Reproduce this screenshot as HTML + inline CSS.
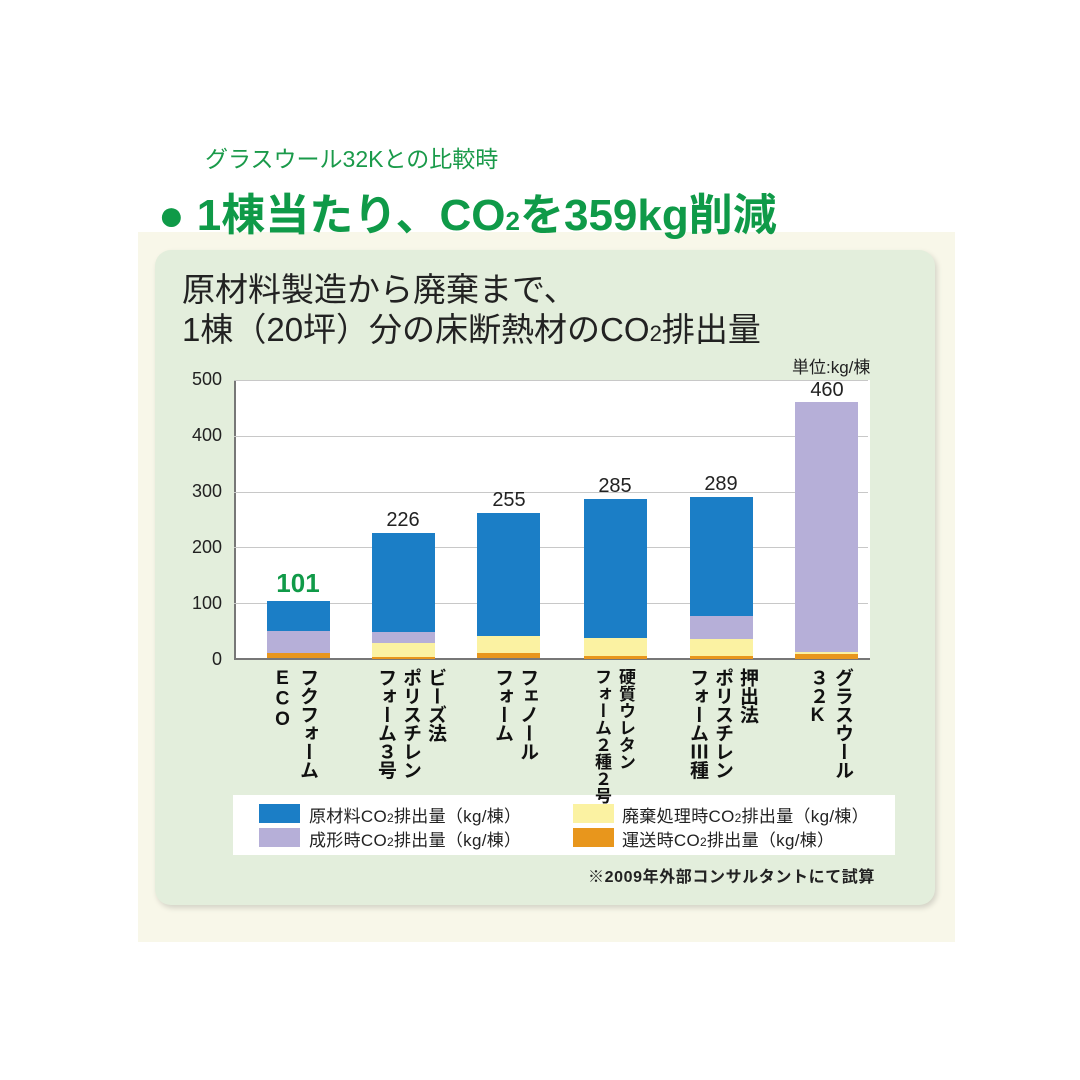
<!DOCTYPE html>
<html><head><meta charset="utf-8">
<style>
*{margin:0;padding:0}
body{width:1080px;height:1080px;background:#fff;position:relative;overflow:hidden;font-family:"Liberation Sans","Noto Sans CJK JP",sans-serif}
.a{position:absolute}
.bar{position:absolute;width:63px}
.b{background:#1b7ec6}.p{background:#b6afd8}.y{background:#fbf2a2}.o{background:#e8961c}
.v{position:absolute;font-size:20px;color:#222;text-align:center;width:80px}
.t{position:absolute;z-index:2;writing-mode:vertical-rl;text-orientation:upright;font-size:19px;font-weight:bold;color:#111;top:668px;line-height:25px;letter-spacing:-0.5px}
.grid{position:absolute;left:234px;width:634px;height:1px;background:#c8c8c8}
.yl{position:absolute;left:166px;width:56px;text-align:right;font-size:18px;color:#222}
.sw{position:absolute;width:41px;height:19px}
.lt{position:absolute;font-size:17px;color:#222;letter-spacing:0.3px}
</style></head><body>
<div class="a" style="left:138px;top:232px;width:817px;height:710px;background:#f8f7e9"></div>
<div class="a" style="left:155px;top:250px;width:780px;height:655px;background:#e3eedc;border-radius:16px;box-shadow:2px 3px 6px rgba(0,0,0,0.15)"></div>
<div class="a" style="left:205px;top:140px;font-size:23px;color:#1a9a4a">グラスウール32Kとの比較時</div>
<div class="a" style="left:158px;top:179px;font-size:44px;font-weight:bold;color:#0f9a48;letter-spacing:0px">●&nbsp;1棟当たり、CO<span style="font-size:26px">2</span>を359kg削減</div>
<div class="a" style="left:182px;top:270px;font-size:33px;color:#222;line-height:40px">原材料製造から廃棄まで、<br>1棟（20坪）分の床断熱材のCO<span style="font-size:22px">2</span>排出量</div>
<div class="a" style="left:792px;top:353px;font-size:17px;color:#222">単位:kg/棟</div>
<div class="a" style="left:234px;top:380px;width:634px;height:279px;background:#fff;border-left:2px solid #777"></div>
<div class="grid" style="top:380px"></div><div class="grid" style="top:436px"></div><div class="grid" style="top:492px"></div><div class="grid" style="top:547px"></div><div class="grid" style="top:603px"></div>
<div class="a" style="left:234px;top:658px;width:636px;height:2px;background:#777"></div>
<div class="yl" style="top:369px">500</div><div class="yl" style="top:425px">400</div><div class="yl" style="top:481px">300</div><div class="yl" style="top:537px">200</div><div class="yl" style="top:593px">100</div><div class="yl" style="top:649px">0</div>

<div class="bar b" style="left:267px;top:601px;height:30px"></div><div class="bar p" style="left:267px;top:631px;height:22px"></div><div class="bar o" style="left:267px;top:653px;height:5px"></div>
<div class="bar b" style="left:372px;top:533px;height:99px"></div><div class="bar p" style="left:372px;top:632px;height:11px"></div><div class="bar y" style="left:372px;top:643px;height:14px"></div><div class="bar o" style="left:372px;top:657px;height:2px"></div>
<div class="bar b" style="left:477px;top:513px;height:123px"></div><div class="bar y" style="left:477px;top:636px;height:17px"></div><div class="bar o" style="left:477px;top:653px;height:5px"></div>
<div class="bar b" style="left:584px;top:499px;height:139px"></div><div class="bar y" style="left:584px;top:638px;height:18px"></div><div class="bar o" style="left:584px;top:656px;height:3px"></div>
<div class="bar b" style="left:690px;top:497px;height:119px"></div><div class="bar p" style="left:690px;top:616px;height:23px"></div><div class="bar y" style="left:690px;top:639px;height:17px"></div><div class="bar o" style="left:690px;top:656px;height:3px"></div>
<div class="bar p" style="left:795px;top:402px;height:250px"></div><div class="bar y" style="left:795px;top:652px;height:2px"></div><div class="bar o" style="left:795px;top:654px;height:5px"></div>

<div class="v" style="left:258px;top:568px;font-size:26px;font-weight:bold;color:#109a48">101</div>
<div class="v" style="left:363px;top:509px">226</div>
<div class="v" style="left:469px;top:489px">255</div>
<div class="v" style="left:575px;top:475px">285</div>
<div class="v" style="left:681px;top:473px">289</div>
<div class="v" style="left:787px;top:379px">460</div>

<div class="t" style="left:270px">フクフォーム<br>ECO</div>
<div class="t" style="left:373px">ビーズ法<br>ポリスチレン<br>フォーム３号</div>
<div class="t" style="left:490px">フェノール<br>フォーム</div>
<div class="t" style="left:589px;font-size:17px;letter-spacing:0px;line-height:24px">硬質ウレタン<br>フォーム２種２号</div>
<div class="t" style="left:685px">押出法<br>ポリスチレン<br>フォームⅢ種</div>
<div class="t" style="left:805px">グラスウール<br>３２K</div>

<div class="a" style="left:233px;top:795px;width:662px;height:60px;background:#fff"></div>
<div class="sw b" style="left:259px;top:804px"></div><div class="lt" style="left:309px;top:802px">原材料CO<span style="font-size:12px">2</span>排出量（kg/棟）</div>
<div class="sw p" style="left:259px;top:828px"></div><div class="lt" style="left:309px;top:826px">成形時CO<span style="font-size:12px">2</span>排出量（kg/棟）</div>
<div class="sw y" style="left:573px;top:804px"></div><div class="lt" style="left:622px;top:802px">廃棄処理時CO<span style="font-size:12px">2</span>排出量（kg/棟）</div>
<div class="sw o" style="left:573px;top:828px"></div><div class="lt" style="left:622px;top:826px">運送時CO<span style="font-size:12px">2</span>排出量（kg/棟）</div>
<div class="a" style="left:588px;top:863px;font-size:16px;font-weight:bold;color:#222;letter-spacing:0.6px">※2009年外部コンサルタントにて試算</div>
</body></html>
